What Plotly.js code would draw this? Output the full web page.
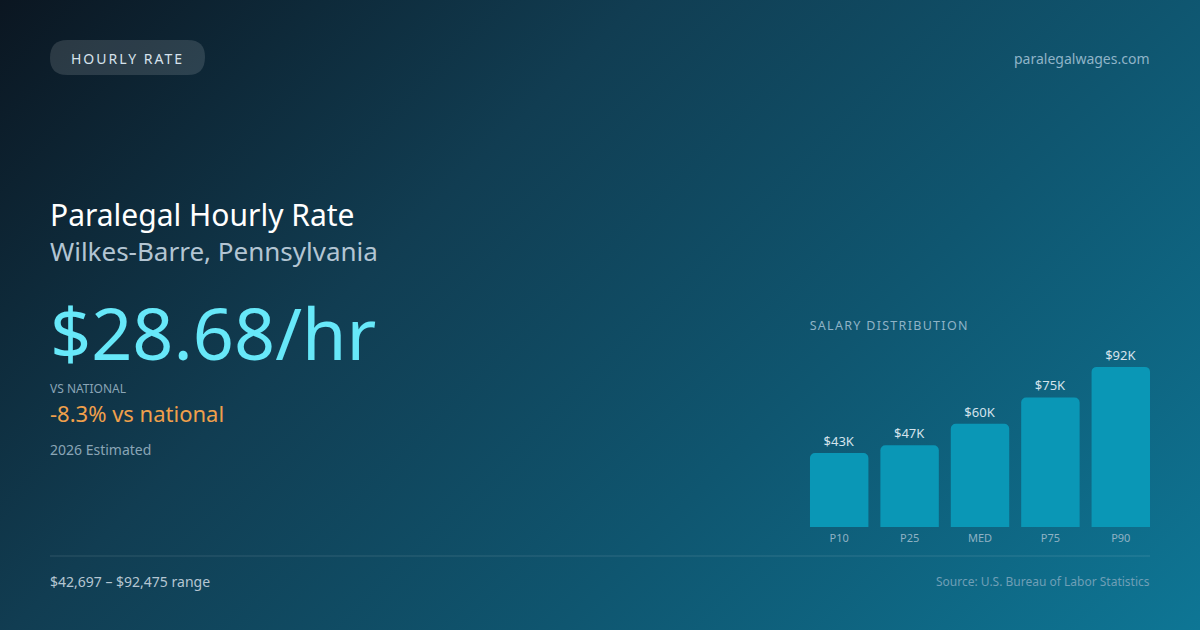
<!DOCTYPE html>
<html>
<head>
<meta charset="utf-8">
<script src="https://cdn.plot.ly/plotly-3.0.1.min.js"></script>
<style>
  html, body { margin: 0; padding: 0; }
  body {
    width: 1200px; height: 630px; overflow: hidden;
    background: linear-gradient(135deg, #0b1621 0%, #113d52 35%, #0f5670 65%, #0e7695 100%);
  }
  #chart { width: 1200px; height: 630px; }
</style>
</head>
<body>
<div id="chart"></div>
<script>
// salary percentiles (annual, USD)
const percentiles = ['P10', 'P25', 'MED', 'P75', 'P90']
const salaries = [42697, 47200, 59600, 74800, 92475]
const salaryLabels = ['$43K', '$47K', '$60K', '$75K', '$92K']

const hourlyRate = '$28.68/hr'
const vsNational = '-8.3% vs national'
const rangeText = '$42,697 – $92,475 range'

const W = 1200, H = 630
// pixel -> paper helpers
const px = x => x / W
const py = y => 1 - y / H

// annotations carry ~2px of padding, so nudge left/right anchored text
function note(text, x, y, size, color, anchor) {
    anchor = anchor || 'left'
    const dx = anchor === 'left' ? -2 : anchor === 'right' ? 2 : 0
    return {
        text: text,
        xref: 'paper', yref: 'paper',
        x: px(x + dx), y: py(y),
        xanchor: anchor, yanchor: 'middle',
        showarrow: false,
        font: { family: 'Noto Sans', size: size, color: color }
    }
}

function pillPath(x0, y0, x1, y1, r) {
    const p = (x, y) => px(x) + ',' + py(y)
    return 'M' + p(x0 + r, y0) + ' L' + p(x1 - r, y0) +
        ' Q' + p(x1, y0) + ' ' + p(x1, y0 + r) +
        ' Q' + p(x1, y1) + ' ' + p(x1 - r, y1) +
        ' L' + p(x0 + r, y1) +
        ' Q' + p(x0, y1) + ' ' + p(x0, y1 - r) +
        ' Q' + p(x0, y0) + ' ' + p(x0 + r, y0) + ' Z'
}

const data = [{
    type: 'bar',
    x: percentiles,
    y: salaries,
    text: salaryLabels,
    textposition: 'outside',
    textfont: { family: 'Noto Sans', size: 13, color: '#d5e3ec' },
    cliponaxis: false,
    hoverinfo: 'skip',
    marker: { color: '#0a97b6', cornerradius: 5, line: { width: 0 } }
}]

const layout = {
    width: W, height: H,
    margin: { l: 0, r: 0, t: 0, b: 0 },
    paper_bgcolor: 'rgba(0,0,0,0)',
    plot_bgcolor: 'rgba(0,0,0,0)',
    showlegend: false,
    bargap: 0.17,
    xaxis: {
        domain: [px(804), px(1156)],
        showgrid: false, zeroline: false, showline: false, ticks: '',
        ticklabelstandoff: 3,
        tickfont: { family: 'Noto Sans', size: 11, color: '#8fb2c4' },
        fixedrange: true
    },
    yaxis: {
        domain: [py(527), py(340)],
        range: [0, 108000],
        visible: false,
        fixedrange: true
    },
    shapes: [
        {
            type: 'path', xref: 'paper', yref: 'paper',
            path: pillPath(50, 40, 205, 75, 17),
            fillcolor: 'rgba(255,255,255,0.13)', line: { width: 0 }
        },
        {
            type: 'line', xref: 'paper', yref: 'paper',
            x0: px(50), x1: px(1150), y0: py(556), y1: py(556),
            line: { color: 'rgba(255,255,255,0.13)', width: 1 }
        }
    ],
    annotations: [
        note('HOURLY RATE', 127, 58, 14, '#d6e2ec', 'center'),
        note('paralegalwages.com', 1150, 58, 14, '#8fb4c8', 'right'),
        note('Paralegal Hourly Rate', 50, 214, 30, '#ffffff'),
        note('Wilkes-Barre, Pennsylvania', 50, 251, 26, '#b3c5d3'),
        note(hourlyRate, 50, 332, 72, '#67e8f9'),
        note('VS NATIONAL', 50, 388, 12, '#8aa5b6'),
        note(vsNational, 50, 413, 22, '#f0a04b'),
        note('2026 Estimated', 50, 449, 14, '#8aa5b6'),
        note('SALARY DISTRIBUTION', 889, 325, 12.5, '#8fb3c6', 'center'),
        note(rangeText, 50, 581, 14, '#b5c6d2'),
        note('Source: U.S. Bureau of Labor Statistics', 1150, 581, 12, '#6f9fb6', 'right')
    ]
}

const config = { displayModeBar: false, staticPlot: true }

Plotly.newPlot('chart', data, layout, config).then(gd => {
    // letter spacing for the small caps labels (centre anchored, so they stay put)
    gd.querySelectorAll('.annotation-text').forEach(t => {
        if (t.textContent === 'HOURLY RATE') t.style.letterSpacing = '2px'
        if (t.textContent === 'SALARY DISTRIBUTION') t.style.letterSpacing = '1.3px'
    })
})
</script>
</body>
</html>
